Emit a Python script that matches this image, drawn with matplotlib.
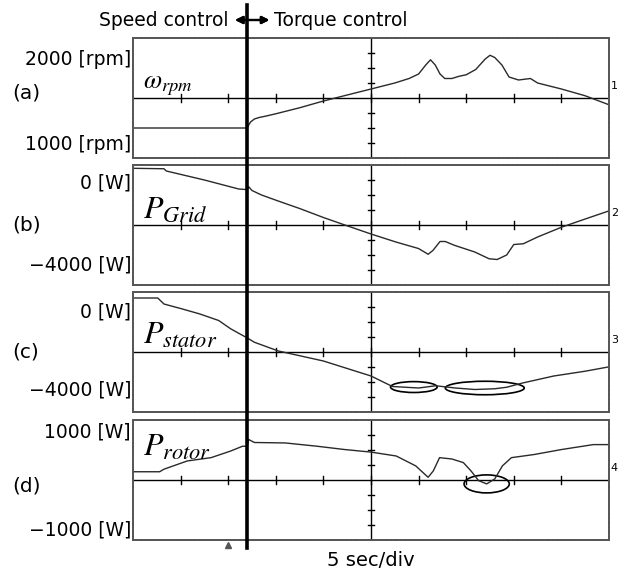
import numpy as np
import matplotlib.pyplot as plt
from matplotlib.patches import Ellipse
from matplotlib.lines import Line2D

plt.rcParams['font.family'] = 'DejaVu Sans'
plt.rcParams['mathtext.fontset'] = 'stix'

# time base: 5 sec/div, 10 div
t_end = 50.0
switch_t = 12.0   # speed control -> torque control

# (a) rotor speed [rpm]
t_a = [0, 12.0, 12.1, 12.35, 12.75, 13.25, 14.0, 15.0, 17.5, 20.0, 22.5, 25.0, 27.5,
       29.0, 30.0, 30.75, 31.25, 31.75, 32.25, 32.75, 33.5, 34.25, 35.0, 36.0, 37.0,
       37.5, 38.0, 38.75, 39.5, 40.5, 41.75, 42.5, 45.0, 47.5, 50.0]
rpm_a = [1000, 1000, 1037, 1100, 1150, 1175, 1200, 1237, 1337, 1450, 1550, 1650, 1750,
         1825, 1900, 2050, 2137, 2050, 1900, 1825, 1825, 1862, 1887, 1975, 2150,
         2212, 2175, 2050, 1850, 1800, 1825, 1750, 1650, 1537, 1387]

# (b) grid power [W]
t_b = [0, 3.25, 3.5, 7.5, 11.1, 12.0, 12.15, 12.5, 13.5, 15.25, 17.5, 20.0, 22.25,
       25.0, 27.65, 30.0, 31.0, 31.5, 32.25, 32.8, 33.75, 35.9, 37.4, 38.25, 39.25,
       40.0, 41.0, 42.5, 45.0, 47.5, 50.0]
p_grid = [1024, 1000, 880, 400, -80, -112, 40, -160, -400, -720, -1120, -1600, -2000,
          -2480, -2912, -3256, -3560, -3360, -2880, -2880, -3080, -3440, -3800, -3840, -3600,
          -3040, -3000, -2640, -2120, -1680, -1248]

# (c) stator power [W]
t_c = [0, 2.6, 3.25, 5.0, 7.0, 9.0, 10.25, 11.1, 12.0, 12.75, 15.25, 20.0, 25.0,
       27.25, 30.0, 31.8, 33.85, 35.9, 38.0, 39.25, 40.9, 44.2, 47.5, 50.0]
p_stator = [880, 880, 560, 320, 32, -320, -760, -1000, -1250, -1480, -1944, -2480, -3280,
            -3840, -3920, -3800, -3920, -4000, -3960, -3880, -3656, -3280, -3024, -2792]

# (d) rotor power [W]
t_d = [0, 2.8, 3.25, 5.7, 8.2, 10.25, 11.5, 12.0, 12.15, 12.75, 16.0, 19.35, 22.25,
       25.0, 27.65, 29.7, 31.0, 31.55, 32.2, 33.5, 34.7, 35.5, 36.3, 37.15, 38.0,
       38.8, 39.75, 42.15, 45.0, 48.35, 50.0]
p_rotor = [165, 165, 216, 381, 447, 579, 675, 675, 810, 750, 741, 675, 609,
           558, 480, 282, 54, 183, 447, 420, 348, 183, -12, -78, 21,
           282, 447, 510, 609, 708, 708]

# highlighted regions (t centre, value centre, width [s], height)
marks_c = [(29.5, -3870, 4.9, 580), (36.95, -3920, 8.3, 720)]
marks_d = [(37.15, -78, 4.75, 360)]

panels = [
    dict(t=t_a, y=rpm_a, c=1500, div=250, name=r'$\omega_{rpm}$', nfs=19, ny=0.61,
         top='2000 [rpm]', bot='1000 [rpm]', ty=0.82, by=0.11, lab='(a)', ly=0.54, ch='1'),
    dict(t=t_b, y=p_grid, c=-2000, div=800, name=r'$P_{Grid}$', nfs=23, ny=0.63,
         top='0 [W]', bot='\u22124000 [W]', ty=0.85, by=0.17, lab='(b)', ly=0.50, ch='2'),
    dict(t=t_c, y=p_stator, c=-2000, div=800, name=r'$P_{stator}$', nfs=23, ny=0.64,
         top='0 [W]', bot='\u22124000 [W]', ty=0.83, by=0.18, lab='(c)', ly=0.50, ch='3'),
    dict(t=t_d, y=p_rotor, c=0, div=300, name=r'$P_{rotor}$', nfs=23, ny=0.77,
         top='1000 [W]', bot='\u22121000 [W]', ty=0.90, by=0.08, lab='(d)', ly=0.45, ch='4'),
]

W_px, H_px = 620, 571
fig = plt.figure(figsize=(6.2, 5.71), dpi=100)
left, width = 133 / W_px, 476 / W_px
tops = [38, 165, 292, 420]
ph = 120

axes = []
for p, top in zip(panels, tops):
    ax = fig.add_axes([left, 1 - (top + ph) / H_px, width, ph / H_px])
    c, d = p['c'], p['div']
    ax.set_xlim(0, t_end)
    ax.set_ylim(c - 4 * d, c + 4 * d)
    ax.set_xticks([])
    ax.set_yticks([])
    for s in ax.spines.values():
        s.set_color('#555555')
        s.set_linewidth(1.4)
        s.set_linestyle((0, (1.5, 0.8)))
    # graticule centre lines with division marks
    ax.axhline(c, color='k', lw=1.0)
    ax.axvline(t_end / 2, color='k', lw=1.0)
    for i in range(1, 10):
        ax.plot([i * 5, i * 5], [c - 0.27 * d, c + 0.27 * d], color='k', lw=1.0)
    for j in [-3, -2, -1, 1, 2, 3]:
        ax.plot([t_end / 2 - 0.35, t_end / 2 + 0.35], [c + j * d, c + j * d], color='k', lw=1.0)
    ax.plot(p['t'], p['y'], color='#2a2a2a', lw=1.0)
    ax.text(0.02, p['ny'], p['name'], transform=ax.transAxes, fontsize=p['nfs'],
            ha='left', va='center')
    ax.text(-0.004, p['ty'], p['top'], transform=ax.transAxes, fontsize=13.5,
            ha='right', va='center')
    ax.text(-0.004, p['by'], p['bot'], transform=ax.transAxes, fontsize=13.5,
            ha='right', va='center')
    fig.text(12 / W_px, ax.get_position().y0 + p['ly'] * ph / H_px, p['lab'],
             fontsize=14.5, ha='left', va='center')
    ax.text(1.004, 0.6, p['ch'], transform=ax.transAxes, fontsize=8,
            ha='left', va='center', clip_on=False)
    axes.append(ax)

for m in marks_c:
    axes[2].add_patch(Ellipse((m[0], m[1]), m[2], m[3], fill=False, ec='k', lw=1.2))
for m in marks_d:
    axes[3].add_patch(Ellipse((m[0], m[1]), m[2], m[3], fill=False, ec='k', lw=1.2))

# trigger marker below the last panel
axes[3].plot([10], [-0.04], transform=axes[3].get_xaxis_transform(), marker='^',
             ms=4, color='#555555', clip_on=False)

# mode switch line across all panels
x_sw = left + width * switch_t / t_end
fig.add_artist(Line2D([x_sw, x_sw], [1 - 548 / H_px, 1 - 5 / H_px], color='k', lw=2.6))

y_top = 1 - 20 / H_px
fig.text(x_sw - 19 / W_px, y_top, 'Speed control', fontsize=13.5, ha='right', va='center')
fig.text(x_sw + 27 / W_px, y_top, 'Torque control', fontsize=13.5, ha='left', va='center')
fig.add_artist(plt.annotate('', xy=(x_sw + 25 / W_px, y_top), xytext=(x_sw - 15 / W_px, y_top),
                            xycoords='figure fraction',
                            arrowprops=dict(arrowstyle='<|-|>', color='k', lw=1.6,
                                            mutation_scale=11)))

fig.text(left + width / 2, 1 - 561 / H_px, '5 sec/div', fontsize=14, ha='center', va='center')

fig.savefig('out.png', dpi=100)
